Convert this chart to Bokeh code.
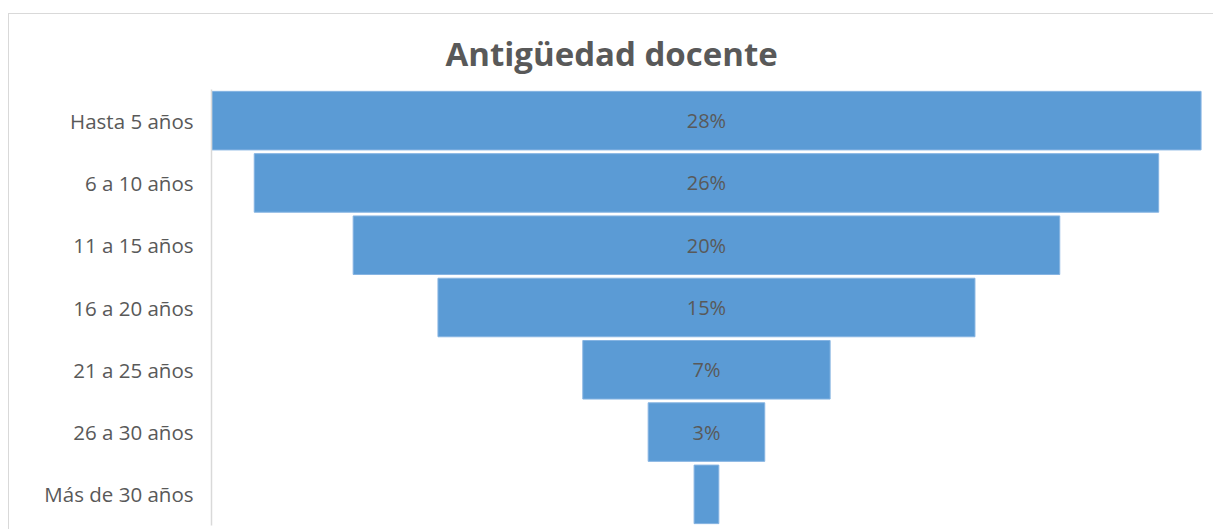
from bokeh.plotting import figure
from bokeh.models import ColumnDataSource, Range1d, FactorRange, LabelSet, Title
from bokeh.core.properties import value
from bokeh.embed import file_html
from bokeh.resources import INLINE

categories = ["Hasta 5 años", "6 a 10 años", "11 a 15 años", "16 a 20 años",
              "21 a 25 años", "26 a 30 años", "Más de 30 años"]
values = [28.0, 25.6, 20.0, 15.2, 7.0, 3.3, 0.7]
labels = ["28%", "26%", "20%", "15%", "7%", "3%", ""]

source = ColumnDataSource(dict(
    cat=categories,
    left=[-v / 2 for v in values],
    right=[v / 2 for v in values],
    label=labels,
    x=[0.0] * len(values),
))

FONT = "Open Sans"
GREY = "#595959"

p = figure(width=1205, height=516,
           y_range=FactorRange(*reversed(categories)),
           x_range=Range1d(-14.01, 14.38),
           output_backend="svg", toolbar_location=None,
           min_border_left=202, min_border_right=0,
           min_border_top=75, min_border_bottom=5)

p.title = Title(text="Antigüedad docente", align="left", offset=234,
                text_font_size="33px", text_font=FONT, text_font_style="bold",
                text_color=GREY, standoff=27)

p.hbar(y="cat", left="left", right="right", height=0.94, source=source,
       fill_color="#5B9BD5", line_color="#86B4E2", line_width=1)

p.add_layout(LabelSet(x="x", y="cat", text="label", source=source,
                      text_align="center", text_baseline="middle",
                      text_font_size="20px", text_font=value(FONT),
                      text_color=GREY))

p.xaxis.visible = False
p.grid.visible = False
p.outline_line_color = None
p.yaxis.axis_line_color = "#d9d9d9"
p.yaxis.axis_line_width = 1.5
p.yaxis.major_tick_line_color = None
p.yaxis.minor_tick_line_color = None
p.yaxis.major_label_text_font = FONT
p.yaxis.major_label_text_font_size = "20.5px"
p.yaxis.major_label_text_color = GREY
p.yaxis.major_label_standoff = 12

p.styles = {"margin-top": "13px", "margin-left": "8px",
            "border-top": "1px solid #d9d9d9",
            "border-left": "1px solid #d9d9d9"}

open("out.html", "w").write(file_html(p, INLINE))
